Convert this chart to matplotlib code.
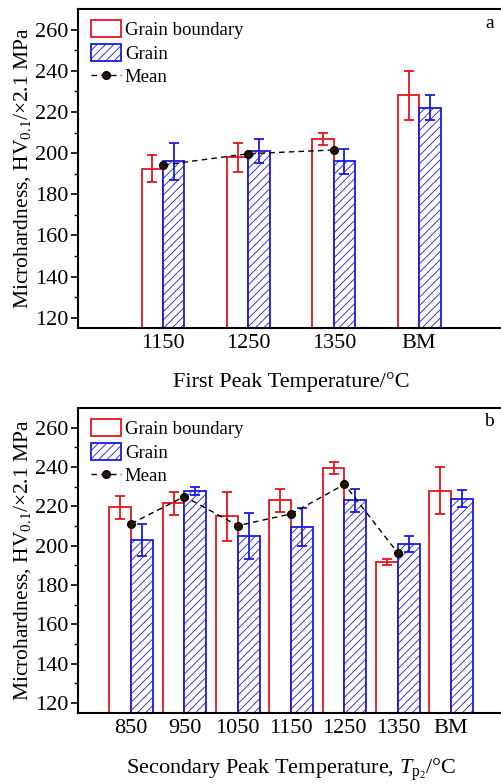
import numpy as np
import matplotlib
matplotlib.use('Agg')
import matplotlib.pyplot as plt
from matplotlib.lines import Line2D
from matplotlib.patches import Patch

plt.rcParams['font.family'] = ['Liberation Serif', 'DejaVu Serif']
plt.rcParams['mathtext.fontset'] = 'custom'
plt.rcParams['mathtext.rm'] = 'Liberation Serif'
plt.rcParams['mathtext.it'] = 'Liberation Serif:italic'
plt.rcParams['hatch.linewidth'] = 0.6

# panel a
cats_a = ['1150', '1250', '1350', 'BM']
gb_a = [192.5, 198, 207, 228]
gb_err_a = [6.5, 7, 3, 12]
gr_a = [196, 201, 196, 222]
gr_err_a = [9, 6, 6, 6]
mean_a = [194.2, 199.7, 201.5]

# panel b
cats_b = ['850', '950', '1050', '1150', '1250', '1350', 'BM']
gb_b = [219.5, 221.5, 215, 223, 239.5, 191.5, 228]
gb_err_b = [6, 6, 12.5, 5.7, 3.3, 1.5, 12]
gr_b = [203, 228, 205, 209.5, 223, 201, 224]
gr_err_b = [8, 2, 11.5, 9.5, 5.7, 4, 4.4]
mean_b = [211.2, 225, 210.2, 216.2, 231.2, 196.3]

red = '#e8141c'
blue = '#1a1ae0'

fig = plt.figure(figsize=(5.02, 7.84), dpi=100)
ax1 = fig.add_axes([0.155, 0.5816, 0.85, 0.4069])
ax2 = fig.add_axes([0.155, 0.0906, 0.85, 0.389])


def draw(ax, cats, gb, gbe, gr, gre, mean, w, tag, xlab, lpad):
    x = np.arange(1, len(cats) + 1)
    ax.bar(x - w / 2, gb, w, color='white', edgecolor=red, linewidth=1.3, zorder=2)
    ax.bar(x + w / 2, gr, w, color='white', edgecolor=blue, hatch='////', linewidth=1.3, zorder=2)
    ax.errorbar(x - w / 2, gb, yerr=gbe, fmt='none', ecolor=red, elinewidth=1.3, capsize=3.5, capthick=1.3, zorder=3)
    ax.errorbar(x + w / 2, gr, yerr=gre, fmt='none', ecolor=blue, elinewidth=1.3, capsize=3.5, capthick=1.3, zorder=3)
    xm = x[:len(mean)]
    ax.plot(xm, mean, ls=(0, (4, 3)), color='black', lw=1.0, marker='o', ms=5.5,
            mfc='#2a1500', mec='black', zorder=4)
    ax.set_xlim(0, len(cats) + 1)
    ax.set_ylim(115, 270)
    ax.set_yticks(np.arange(120, 261, 20))
    ax.set_yticks(np.arange(120, 270, 10), minor=True)
    ax.set_xticks(x)
    ax.set_xticklabels(cats)
    ax.tick_params(axis='x', length=0, labelsize=16, pad=4)
    ax.tick_params(axis='y', which='major', direction='out', length=5, width=1.2, labelsize=16, pad=2)
    ax.tick_params(axis='y', which='minor', direction='out', length=3, width=1.0)
    for s in ax.spines.values():
        s.set_linewidth(1.5)
    ax.spines['right'].set_visible(False)
    ax.set_ylabel(r'Microhardness, HV$_{0.1}$/×2.1 MPa', fontsize=15.5, labelpad=1)
    ax.set_xlabel(xlab, fontsize=16, labelpad=lpad)
    ax.text(0.975, 0.955, tag, transform=ax.transAxes, fontsize=14, ha='right', va='center')
    handles = [Patch(facecolor='white', edgecolor=red, linewidth=1.3),
               Patch(facecolor='white', edgecolor=blue, hatch='////', linewidth=1.3),
               Line2D([0], [0], ls=(0, (4, 3)), color='black', lw=1.0, marker='o', ms=5.5,
                      mfc='#2a1500', mec='black')]
    ax.legend(handles, ['Grain boundary', 'Grain', 'Mean'], loc='upper left', frameon=False,
              fontsize=13.5, handlelength=1.6, handleheight=1.0, handletextpad=0.2,
              labelspacing=0.25, borderaxespad=0.2, bbox_to_anchor=(0.005, 1.0))


draw(ax1, cats_a, gb_a, gb_err_a, gr_a, gr_err_a, mean_a, 0.25, 'a', 'First Peak Temperature/°C', 14)
draw(ax2, cats_b, gb_b, gb_err_b, gr_b, gr_err_b, mean_b, 0.41, 'b',
     r'Secondary Peak Temperature, $\mathit{T}_{\mathrm{p_2}}$/°C', 14)

fig.savefig('out.png', dpi=100)
